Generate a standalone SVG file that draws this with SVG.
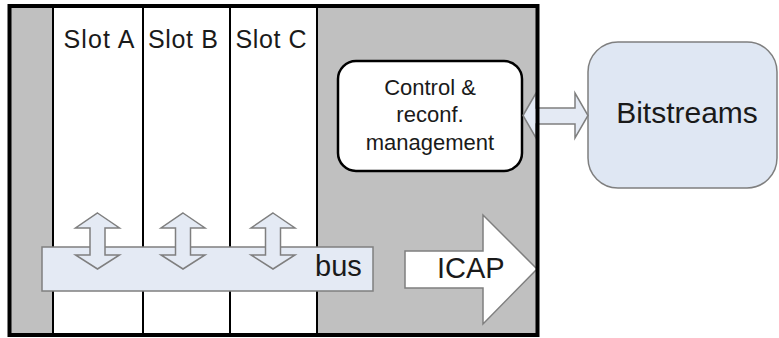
<svg xmlns="http://www.w3.org/2000/svg" width="779" height="338" viewBox="0 0 779 338">
<style>
text{font-family:"Liberation Sans",Arial,sans-serif;fill:#1a1a1a}
.slot{fill:#fff}
.sep{stroke:#000;stroke-width:2}
.arr{fill:#e4eaf4;stroke:#7f7f7f;stroke-width:1.5;stroke-linejoin:miter}
</style>
<rect width="779" height="338" fill="#fff"/>
<g id="fpga">
<rect x="9.5" y="6" width="528" height="329" fill="#c0c0c0"/>
<rect class="slot" x="53" y="6" width="264" height="329"/>
<line class="sep" x1="53" y1="6" x2="53" y2="335"/>
<line class="sep" x1="143" y1="6" x2="143" y2="335"/>
<line class="sep" x1="230" y1="6" x2="230" y2="335"/>
<line class="sep" x1="317" y1="6" x2="317" y2="335"/>
</g>
<g id="slotA"><text x="99" y="48" font-size="25" text-anchor="middle" textLength="71">Slot A</text></g>
<g id="slotB"><text x="183" y="48" font-size="25" text-anchor="middle" textLength="70">Slot B</text></g>
<g id="slotC"><text x="271" y="48" font-size="25" text-anchor="middle" textLength="71">Slot C</text></g>
<g id="bus">
<rect x="42" y="247" width="331" height="44" fill="#e4eaf4" stroke="#7f7f7f" stroke-width="1.5"/>
<text x="315" y="276" font-size="29">bus</text>
</g>
<g id="control">
<rect x="338" y="61" width="184" height="110" rx="18" ry="18" fill="#fff" stroke="#000" stroke-width="2.5"/>
<text x="430" y="95" font-size="22" text-anchor="middle">Control &amp;</text>
<text x="430" y="122" font-size="22" text-anchor="middle">reconf.</text>
<text x="430" y="150" font-size="22" text-anchor="middle">management</text>
</g>
<g id="bitstreams">
<rect x="588" y="42" width="189" height="146" rx="30" ry="30" fill="#dfe7f3" stroke="#7f7f7f" stroke-width="1.5"/>
<text x="687" y="123" font-size="30" text-anchor="middle">Bitstreams</text>
</g>
<g id="icap">
<path d="M405,251 L483,251 L483,215 L537,269 L483,324 L483,288 L405,288 Z" fill="#fff" stroke="#7f7f7f" stroke-width="1.5"/>
<text x="437" y="278" font-size="29">ICAP</text>
</g>
<g id="connectors">
<path class="arr" d="M97.5,213 L119.5,228 L105,228 L105,255 L119.5,255 L97.5,269 L75.5,255 L90,255 L90,228 L75.5,228 Z"/>
<path class="arr" d="M183,213 L205,228 L190.5,228 L190.5,255 L205,255 L183,269 L161,255 L175.5,255 L175.5,228 L161,228 Z"/>
<path class="arr" d="M273,213 L295,228 L280.5,228 L280.5,255 L295,255 L273,269 L251,255 L265.5,255 L265.5,228 L251,228 Z"/>
<path class="arr" d="M523,115.5 L536,93 L536,108 L575,108 L575,93 L588,115.5 L575,138 L575,124 L536,124 L536,138 Z"/>
</g>
<rect x="9.5" y="6" width="528" height="329" fill="none" stroke="#000" stroke-width="4"/>
</svg>
